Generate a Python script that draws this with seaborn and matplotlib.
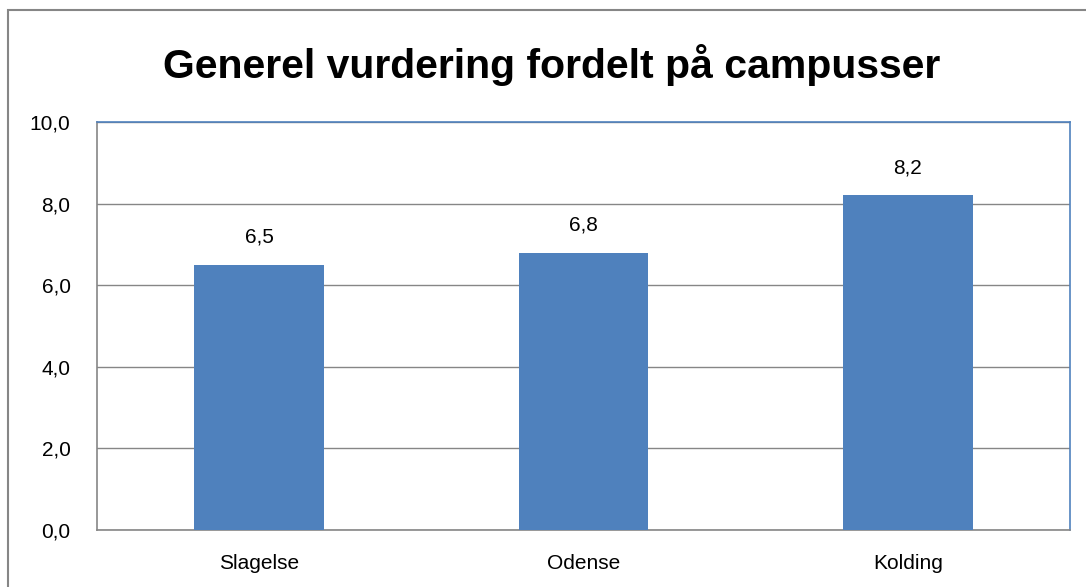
import matplotlib
matplotlib.use("Agg")
import matplotlib.pyplot as plt
import seaborn as sns
import pandas as pd
from matplotlib.patches import Rectangle

# values
campuses = ["Slagelse", "Odense", "Kolding"]
scores = [6.5, 6.8, 8.2]
y_ticks = [0, 2, 4, 6, 8, 10]

df = pd.DataFrame({"Campus": campuses, "Score": scores})

sns.set_style("white")
plt.rcParams["font.family"] = ["Liberation Sans", "DejaVu Sans"]
plt.rcParams["text.color"] = "black"
plt.rcParams["xtick.color"] = "black"
plt.rcParams["ytick.color"] = "black"

fig = plt.figure(figsize=(10.86, 5.87), dpi=100)
ax = fig.add_axes([0.0893, 0.0971, 0.8960, 0.6951])

sns.barplot(data=df, x="Campus", y="Score", color="#4F81BD", saturation=1,
            width=0.4, linewidth=0, ax=ax, zorder=3)

ax.set_xlim(-0.5, 2.5)
ax.set_ylim(0, 10)
ax.set_yticks(y_ticks)
ax.set_yticklabels([f"{v:.1f}".replace(".", ",") for v in y_ticks], fontsize=15)
ax.tick_params(axis="x", labelsize=15, length=0, pad=17)
ax.tick_params(axis="y", length=0, pad=19)
ax.set_xlabel("")
ax.set_ylabel("")
ax.grid(axis="y", color="#868686", linewidth=1, zorder=0)

for s in ["top", "right"]:
    ax.spines[s].set_color("#4F81BD")
for s in ["left", "bottom"]:
    ax.spines[s].set_color("#868686")
for s in ax.spines.values():
    s.set_linewidth(1.2)

for i, v in enumerate(scores):
    ax.annotate(f"{v:.1f}".replace(".", ","), (i, v), xytext=(0, 20),
                textcoords="offset points", ha="center", va="center", fontsize=15)

fig.text(0.508, 0.89, "Generel vurdering fordelt på campusser", ha="center",
         va="center", fontsize=29.5, fontweight="bold")

# outer chart border
fig.patches.append(Rectangle((7.5 / 1086, -0.05), 1.2, 1.05 - 9.5 / 587,
                             transform=fig.transFigure, fill=False,
                             edgecolor="#868686", linewidth=1.5))

fig.savefig("out.png", dpi=100)
